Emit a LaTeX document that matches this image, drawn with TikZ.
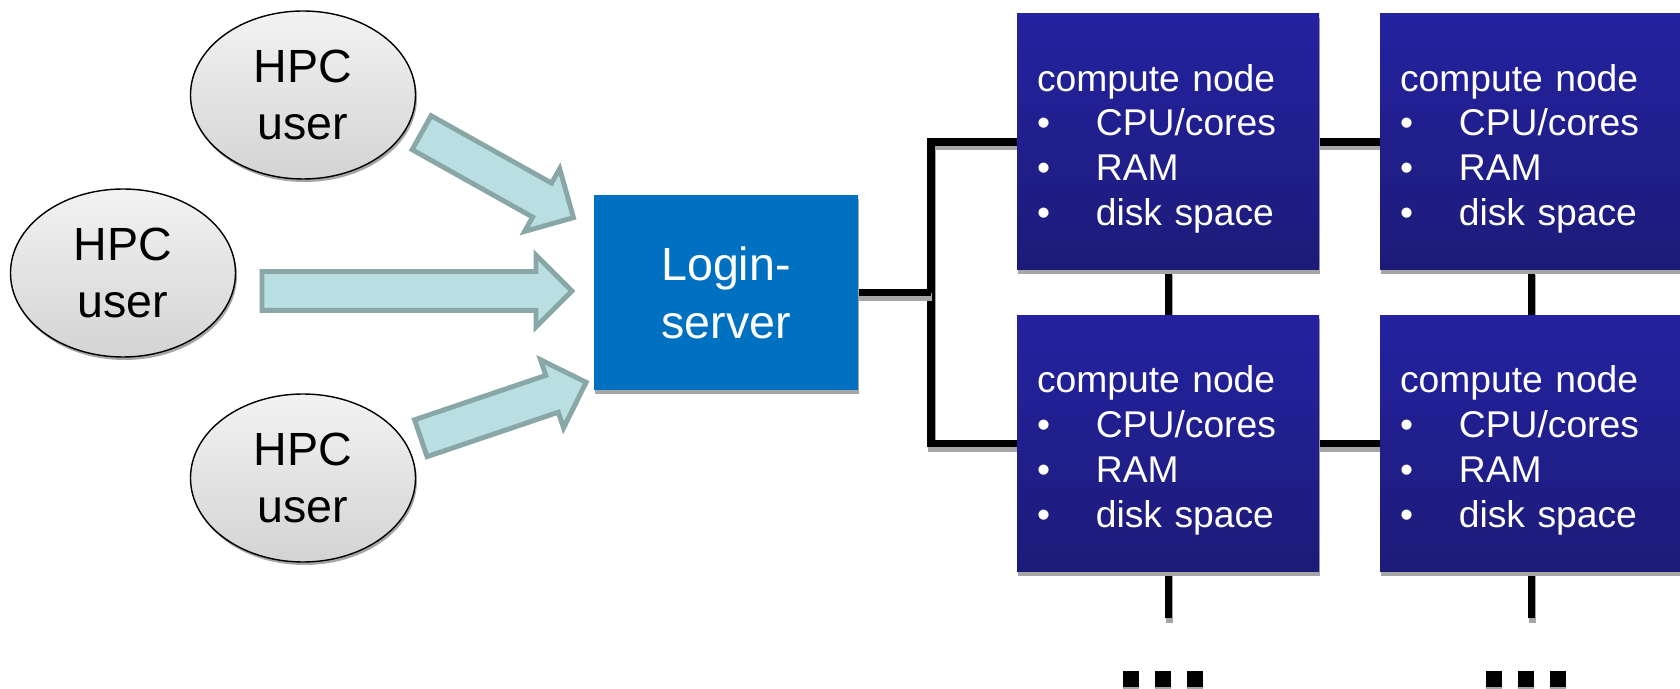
\documentclass[tikz,border=0pt]{standalone}
\usepackage{fontspec}
\setmainfont{Liberation Sans}
\usepackage{tikz}
\usetikzlibrary{positioning}
\usetikzlibrary{shapes.geometric}
\usetikzlibrary{shapes.arrows}
\usetikzlibrary{shadows}
\pgfdeclarelayer{nodelayer}
\pgfdeclarelayer{edgelayer}
\pgfsetlayers{edgelayer,nodelayer,main}
\definecolor{loginblue}{RGB}{0,112,192}
\definecolor{nodetop}{RGB}{36,34,160}
\definecolor{nodebottom}{RGB}{29,27,120}
\definecolor{arrowfill}{RGB}{185,223,226}
\definecolor{arrowedge}{RGB}{138,167,167}
\definecolor{shadowgray}{RGB}{166,166,166}
\newcommand{\cnhead}{\rule{0pt}{23pt}compute node}
\newcommand{\cnitem}[1]{\makebox[33.5pt][l]{\textbullet}#1}
\tikzset{
    none/.style = {inner sep=0pt},
    user/.style = {ellipse, draw, line width=0.8pt, top color=black!5, bottom color=black!17,
        minimum width=4.5cm, minimum height=3.36cm, inner sep=0pt, align=center,
        font=\fontsize{26.5}{32}\selectfont,
        general shadow={fill=shadowgray, shadow xshift=0.03cm, shadow yshift=-0.06cm}},
    server/.style = {rectangle, fill=loginblue, text=white, minimum width=5.28cm,
        minimum height=3.9cm, align=center, font=\fontsize{26.5}{33}\selectfont,
        general shadow={fill=shadowgray, shadow xshift=0.02cm, shadow yshift=-0.08cm}},
    compute/.style = {rectangle, top color=nodetop, bottom color=nodebottom, text=white,
        minimum height=5.12cm, text width=5.24cm, inner xsep=0.4cm, align=left,
        font=\fontsize{21.2}{25.5}\selectfont,
        general shadow={fill=shadowgray, shadow xshift=0.02cm, shadow yshift=-0.08cm}},
    bus/.style = {line width=4pt, preaction={draw=shadowgray, line width=4pt,
        transform canvas={shift={(0.02cm,-0.09cm)}}}},
    userarrow/.style = {single arrow, draw=arrowedge, fill=arrowfill, line width=2.8pt,
        inner xsep=0pt, inner ysep=0.34cm, single arrow head extend=0.33cm,
        single arrow tip angle=90, sloped, pos=0, anchor=tail},
    ellipsisdot/.style = {rectangle, fill=black, minimum width=0.32cm, minimum height=0.32cm,
        inner sep=0pt, general shadow={fill=shadowgray, shadow yshift=-0.04cm}}
}

\begin{document}
\begin{tikzpicture}
    \useasboundingbox (0, 0) rectangle (33.6, -13.78);
    \begin{pgfonlayer}{nodelayer}
        \node [style=user] (0) at (6.06, -1.9) {HPC\\user};
        \node [style=user] (1) at (2.46, -5.46) {HPC\\user};
        \node [style=user] (2) at (6.06, -9.56) {HPC\\user};
        \node [style=server] (3) at (14.52, -5.85) {Login-\\server};
        \node [style=compute] (4) at (23.36, -2.84) {\cnhead\\\cnitem{CPU/cores}\\\cnitem{RAM}\\\cnitem{disk space}};
        \node [style=compute] (5) at (30.62, -2.84) {\cnhead\\\cnitem{CPU/cores}\\\cnitem{RAM}\\\cnitem{disk space}};
        \node [style=compute] (6) at (23.36, -8.87) {\cnhead\\\cnitem{CPU/cores}\\\cnitem{RAM}\\\cnitem{disk space}};
        \node [style=compute] (7) at (30.62, -8.87) {\cnhead\\\cnitem{CPU/cores}\\\cnitem{RAM}\\\cnitem{disk space}};
        \node [style=ellipsisdot] (8) at (22.62, -13.58) {};
        \node [style=ellipsisdot] (9) at (23.26, -13.58) {};
        \node [style=ellipsisdot] (10) at (23.9, -13.58) {};
        \node [style=ellipsisdot] (11) at (29.88, -13.58) {};
        \node [style=ellipsisdot] (12) at (30.52, -13.58) {};
        \node [style=ellipsisdot] (13) at (31.16, -13.58) {};
        \coordinate (14) at (18.62, -2.84);
        \coordinate (15) at (18.62, -8.87);
        \coordinate (16) at (23.36, -12.36);
        \coordinate (17) at (30.62, -12.36);
        \coordinate (18) at (8.39, -2.63);
        \coordinate (19) at (11.5, -4.37);
        \coordinate (20) at (5.19, -5.82);
        \coordinate (21) at (11.46, -5.82);
        \coordinate (22) at (8.37, -8.78);
        \coordinate (23) at (11.74, -7.64);
    \end{pgfonlayer}
    \begin{pgfonlayer}{edgelayer}
        % bus to the compute nodes
        \draw [style=bus] (4.west) -- (14) -- (15) -- (6.west);
        \draw [style=bus] (3.east) -- (3.east -| 14);
        \draw [style=bus] (4.east) -- (5.west);
        \draw [style=bus] (6.east) -- (7.west);
        \draw [style=bus] (4.south) -- (6.north);
        \draw [style=bus] (5.south) -- (7.north);
        \draw [style=bus] (6.south) -- (16);
        \draw [style=bus] (7.south) -- (17);
        % users to login
        \path (18) -- node [style=userarrow, minimum height=3.48cm] (24) {} (19);
        \path (20) -- node [style=userarrow, minimum height=6.2cm] (25) {} (21);
        \path (22) -- node [style=userarrow, minimum height=3.49cm] (26) {} (23);
    \end{pgfonlayer}
\end{tikzpicture}
\end{document}
